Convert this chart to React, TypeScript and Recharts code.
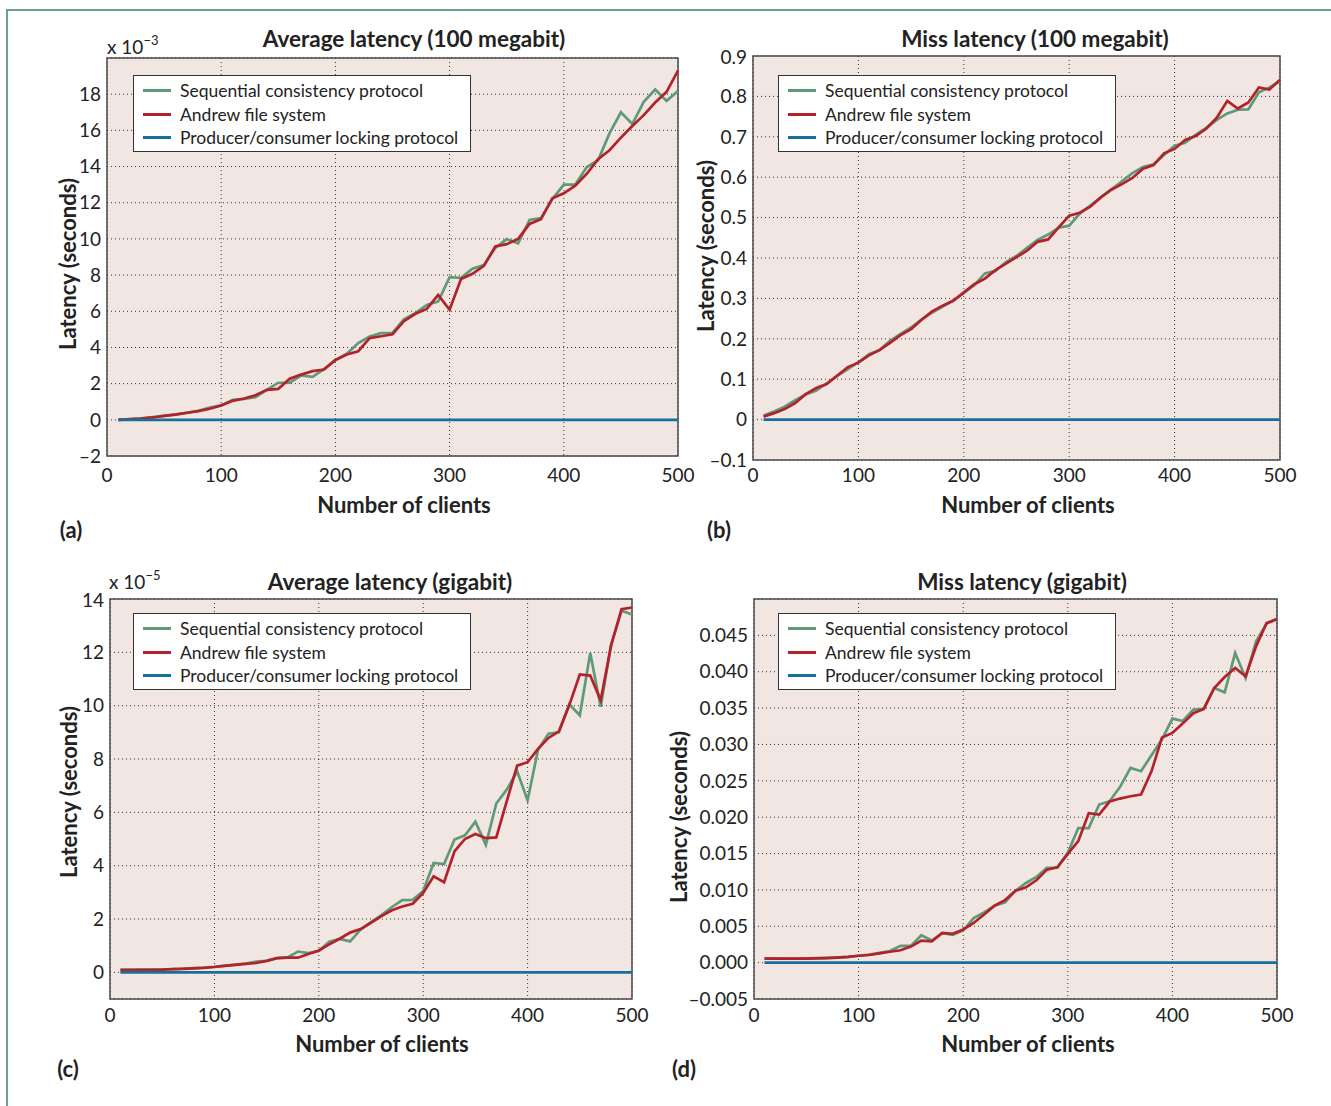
import React from 'react';
import { LineChart, Line, XAxis, YAxis, CartesianGrid, ReferenceArea, Legend } from 'recharts';

// x values shared by every panel
const clients = [
  10, 20, 30, 40, 50, 60, 70, 80, 90, 100,
  110, 120, 130, 140, 150, 160, 170, 180, 190, 200,
  210, 220, 230, 240, 250, 260, 270, 280, 290, 300,
  310, 320, 330, 340, 350, 360, 370, 380, 390, 400,
  410, 420, 430, 440, 450, 460, 470, 480, 490, 500,
];

// producer/consumer locking stays flat at zero everywhere
const lockingZero = [
  0, 0, 0, 0, 0, 0, 0, 0, 0, 0,
  0, 0, 0, 0, 0, 0, 0, 0, 0, 0,
  0, 0, 0, 0, 0, 0, 0, 0, 0, 0,
  0, 0, 0, 0, 0, 0, 0, 0, 0, 0,
  0, 0, 0, 0, 0, 0, 0, 0, 0, 0,
];

// (a) average latency, 100 megabit (x 10^-3 s)
const seqA = [
  0.0, 0.03, 0.08, 0.15, 0.22, 0.3, 0.38, 0.5, 0.68, 0.8,
  1.1, 1.15, 1.25, 1.65, 2.05, 2.06, 2.45, 2.37, 2.8, 3.3,
  3.65, 4.24, 4.6, 4.8, 4.8, 5.55, 5.9, 6.35, 6.54, 7.88,
  7.85, 8.35, 8.55, 9.5, 9.99, 9.76, 11.05, 11.15, 12.2, 13.0,
  13.0, 13.96, 14.35, 15.83, 17.0, 16.35, 17.58, 18.26, 17.63, 18.18,
];
const afsA = [
  0.0, 0.04, 0.07, 0.13, 0.22, 0.29, 0.39, 0.48, 0.61, 0.79,
  1.05, 1.18, 1.36, 1.66, 1.71, 2.27, 2.5, 2.69, 2.78, 3.31,
  3.61, 3.79, 4.51, 4.62, 4.73, 5.45, 5.86, 6.13, 6.9, 6.08,
  7.78, 8.07, 8.51, 9.58, 9.71, 10.0, 10.83, 11.09, 12.25, 12.52,
  12.94, 13.59, 14.4, 14.9, 15.6, 16.24, 16.84, 17.54, 18.13, 19.3,
];

// (b) miss latency, 100 megabit (s)
const seqB = [
  0.01, 0.02, 0.032, 0.048, 0.062, 0.072, 0.09, 0.108, 0.125, 0.142,
  0.162, 0.172, 0.195, 0.212, 0.228, 0.248, 0.265, 0.28, 0.295, 0.313,
  0.333, 0.362, 0.368, 0.39, 0.405, 0.425, 0.445, 0.458, 0.475, 0.48,
  0.51, 0.53, 0.55, 0.57, 0.59, 0.61, 0.625, 0.632, 0.655, 0.678,
  0.685, 0.705, 0.722, 0.742, 0.758, 0.767, 0.768, 0.81, 0.822, 0.838,
];
const afsB = [
  0.007, 0.016, 0.026, 0.041, 0.063, 0.078, 0.088, 0.109, 0.13, 0.141,
  0.159, 0.172, 0.19, 0.209, 0.224, 0.247, 0.268, 0.282, 0.294, 0.315,
  0.335, 0.349, 0.37, 0.386, 0.402, 0.418, 0.44, 0.446, 0.476, 0.505,
  0.512, 0.527, 0.55, 0.569, 0.583, 0.598, 0.621, 0.63, 0.659, 0.67,
  0.692, 0.702, 0.72, 0.747, 0.789, 0.77, 0.785, 0.822, 0.817, 0.841,
];

// (c) average latency, gigabit (x 10^-5 s)
const seqC = [
  0.1, 0.1, 0.1, 0.1, 0.11, 0.12, 0.14, 0.16, 0.18, 0.21,
  0.25, 0.29, 0.33, 0.4, 0.43, 0.53, 0.56, 0.78, 0.72, 0.8,
  1.15, 1.25, 1.16, 1.6, 1.88, 2.15, 2.45, 2.71, 2.72, 3.05,
  4.1, 4.06, 4.98, 5.14, 5.65, 4.78, 6.33, 6.85, 7.54, 6.45,
  8.35, 8.95, 9.0, 10.05, 9.64, 11.97, 9.96, 12.29, 13.56, 13.42,
];
const afsC = [
  0.08, 0.08, 0.09, 0.09, 0.1, 0.12, 0.13, 0.15, 0.17, 0.2,
  0.24, 0.28, 0.32, 0.35, 0.43, 0.53, 0.55, 0.55, 0.69, 0.82,
  1.05, 1.26, 1.49, 1.62, 1.86, 2.11, 2.33, 2.47, 2.57, 2.98,
  3.6, 3.38, 4.54, 5.0, 5.19, 5.03, 5.06, 6.41, 7.75, 7.88,
  8.38, 8.79, 9.04, 10.03, 11.17, 11.13, 10.2, 12.26, 13.62, 13.68,
];

// (d) miss latency, gigabit (s)
const seqD = [
  0.0006, 0.00058, 0.00056, 0.00056, 0.0006, 0.00062, 0.00066, 0.00072, 0.00078, 0.00095,
  0.0011, 0.00135, 0.0016, 0.0023, 0.0023, 0.00377, 0.00304, 0.00405, 0.00382, 0.00442,
  0.00612, 0.0069, 0.00782, 0.00828, 0.00989, 0.01095, 0.01178, 0.01302, 0.01306, 0.01509,
  0.0185, 0.0185, 0.02174, 0.0222, 0.02417, 0.02678, 0.02632, 0.02852, 0.03067, 0.03355,
  0.03323, 0.03479, 0.03488, 0.03777, 0.03717, 0.04257, 0.03914, 0.04418, 0.0466, 0.04724,
];
const afsD = [
  0.00055, 0.00054, 0.00054, 0.00054, 0.00055, 0.00058, 0.00063, 0.0007, 0.00078, 0.00095,
  0.00105, 0.00127, 0.0015, 0.0017, 0.0022, 0.00302, 0.00294, 0.00408, 0.00396, 0.00455,
  0.00545, 0.00662, 0.00784, 0.0086, 0.00989, 0.01035, 0.01132, 0.01279, 0.01311, 0.01495,
  0.0167, 0.02055, 0.02037, 0.02215, 0.02256, 0.02288, 0.0231, 0.0263, 0.03094, 0.03158,
  0.0329, 0.03429, 0.03488, 0.03777, 0.03928, 0.04051, 0.03937, 0.04349, 0.04669, 0.04724,
];

const xTicks = [0, 100, 200, 300, 400, 500];
const yTicksA = [-2, 0, 2, 4, 6, 8, 10, 12, 14, 16, 18];
const yTicksB = [-0.1, 0, 0.1, 0.2, 0.3, 0.4, 0.5, 0.6, 0.7, 0.8, 0.9];
const yTicksC = [0, 2, 4, 6, 8, 10, 12, 14];
const yTicksD = [-0.005, 0, 0.005, 0.01, 0.015, 0.02, 0.025, 0.03, 0.035, 0.04, 0.045];

const GREEN = '#5f9a78';
const RED = '#b3222b';
const BLUE = '#15709a';
const FRAME = '#6ca184';
const BG = '#f2e6e2';
const INK = '#222';
const FONT = 'Lato, "Open Sans", sans-serif';

// legend order as printed in the figure
const seriesOrder = ['Sequential consistency protocol', 'Andrew file system', 'Producer/consumer locking protocol'];

const DASH = '\u2013';
const fmtInt = (v: number) => (v < 0 ? DASH + Math.abs(v) : String(v));
const fmtOne = (v: number) => (v === 0 ? '0' : (v < 0 ? DASH : '') + Math.abs(v).toFixed(1));
const fmtThree = (v: number) => (v < 0 ? DASH : '') + Math.abs(v).toFixed(3);

const buildRows = (seq: number[], afs: number[]) =>
  clients.map((c, i) => ({ clients: c, seq: seq[i], afs: afs[i], lock: lockingZero[i] }));

// chart frame around the plot area
const YW = 70;
const MT = 10;
const MR = 30;
const XH = 40;

const renderLegend = (props: any) => {
  const items = [...(props.payload || [])].sort(
    (a: any, b: any) => seriesOrder.indexOf(a.value) - seriesOrder.indexOf(b.value)
  );
  return (
    <div
      style={{
        background: '#fff',
        border: '1.5px solid #333',
        width: 338,
        height: 77,
        boxSizing: 'border-box',
        paddingTop: 3,
        fontFamily: FONT,
      }}
    >
      {items.map((p: any, i: number) => (
        <div key={i} style={{ display: 'flex', alignItems: 'center', height: 23.5 }}>
          <span style={{ display: 'inline-block', width: 28, height: 3, background: p.color, marginLeft: 9, marginRight: 9 }} />
          <span style={{ fontSize: 17.5, color: INK, whiteSpace: 'nowrap' }}>{p.value}</span>
        </div>
      ))}
    </div>
  );
};

interface PanelProps {
  left: number;
  top: number;
  width: number;
  height: number;
  rows: any[];
  yDomain: [number, number];
  yTicks: number[];
  fmt: (v: number) => string;
  legendX: number;
  legendY: number;
  xGap: number;
}

const Panel = ({ left, top, width, height, rows, yDomain, yTicks, fmt, legendX, legendY, xGap }: PanelProps) => {
  const chartLeft = left - YW;
  const chartTop = top - MT;
  const tickStyle = { fontSize: 19, fill: INK, fontFamily: FONT };
  return (
    <div style={{ position: 'absolute', left: chartLeft, top: chartTop }}>
      <LineChart
        width={YW + width + MR}
        height={MT + height + XH}
        data={rows}
        margin={{ top: MT, right: MR, left: 0, bottom: 0 }}
      >
        <CartesianGrid fill={BG} stroke="#333" strokeDasharray="1 3" />
        <XAxis
          dataKey="clients"
          type="number"
          domain={[0, 500]}
          ticks={xTicks}
          height={XH}
          tickLine={false}
          axisLine={false}
          tickSize={0}
          tickMargin={xGap}
          tick={tickStyle}
        />
        <YAxis
          type="number"
          domain={yDomain}
          ticks={yTicks}
          width={YW}
          allowDataOverflow
          tickFormatter={fmt}
          tickLine={false}
          axisLine={false}
          tickSize={0}
          tickMargin={6}
          tick={tickStyle}
        />
        <ReferenceArea
          x1={0}
          x2={500}
          y1={yDomain[0]}
          y2={yDomain[1]}
          fill="none"
          stroke="#4a4a4a"
          strokeWidth={1.5}
          ifOverflow="visible"
        />
        <Legend
          layout="vertical"
          align="center"
          verticalAlign="middle"
          content={renderLegend}
          wrapperStyle={{ left: legendX - chartLeft, top: legendY - chartTop, width: 340 }}
        />
        <Line name="Sequential consistency protocol" dataKey="seq" stroke={GREEN} strokeWidth={2.7} dot={false} isAnimationActive={false} />
        <Line name="Andrew file system" dataKey="afs" stroke={RED} strokeWidth={2.7} dot={false} isAnimationActive={false} />
        <Line name="Producer/consumer locking protocol" dataKey="lock" stroke={BLUE} strokeWidth={2.7} dot={false} isAnimationActive={false} />
      </LineChart>
    </div>
  );
};

const Text = ({ x, y, size, bold, rotate, children }: any) => (
  <div
    style={{
      position: 'absolute',
      left: x,
      top: y,
      transform: `translate(-50%, -50%)${rotate ? ' rotate(-90deg)' : ''}`,
      whiteSpace: 'nowrap',
      fontSize: size,
      fontWeight: bold ? 700 : 400,
      lineHeight: 1,
      color: INK,
      fontFamily: FONT,
    }}
  >
    {children}
  </div>
);

const Multiplier = ({ x, y, exp }: { x: number; y: number; exp: string }) => (
  <div style={{ position: 'absolute', left: x, top: y, fontSize: 19, color: INK, fontFamily: FONT, lineHeight: 1, whiteSpace: 'nowrap' }}>
    x 10<span style={{ fontSize: 13, position: 'relative', top: -9 }}>{exp}</span>
  </div>
);

const App = () => (
  <div style={{ position: 'fixed', left: 0, top: 0, width: 1331, height: 1106, background: '#fff', overflow: 'hidden', fontFamily: FONT }}>
    <div style={{ position: 'absolute', left: 5.5, top: 8.5, width: 1330, height: 1100, borderTop: `2.5px solid ${FRAME}`, borderLeft: `2.5px solid ${FRAME}` }} />

    <Panel left={107} top={58} width={571} height={398} rows={buildRows(seqA, afsA)} yDomain={[-2, 20]} yTicks={yTicksA} fmt={fmtInt} legendX={133} legendY={75} xGap={13} />
    <Panel left={753} top={56} width={527} height={404} rows={buildRows(seqB, afsB)} yDomain={[-0.1, 0.9]} yTicks={yTicksB} fmt={fmtOne} legendX={778} legendY={75} xGap={9} />
    <Panel left={110} top={599} width={522} height={400} rows={buildRows(seqC, afsC)} yDomain={[-1, 14]} yTicks={yTicksC} fmt={fmtInt} legendX={133} legendY={613} xGap={10} />
    <Panel left={754} top={599} width={523} height={400} rows={buildRows(seqD, afsD)} yDomain={[-0.005, 0.05]} yTicks={yTicksD} fmt={fmtThree} legendX={778} legendY={613} xGap={10} />

    <Text x={414} y={39} size={22.5} bold>Average latency (100 megabit)</Text>
    <Text x={1035} y={39} size={22.5} bold>Miss latency (100 megabit)</Text>
    <Text x={390} y={582} size={22.5} bold>Average latency (gigabit)</Text>
    <Text x={1022} y={582} size={22.5} bold>Miss latency (gigabit)</Text>

    <Multiplier x={107} y={37} exp={'\u22123'} />
    <Multiplier x={109} y={572} exp={'\u22125'} />

    <Text x={68} y={264} size={22} bold rotate>Latency (seconds)</Text>
    <Text x={706} y={246} size={22} bold rotate>Latency (seconds)</Text>
    <Text x={69} y={792} size={22} bold rotate>Latency (seconds)</Text>
    <Text x={679} y={817} size={22} bold rotate>Latency (seconds)</Text>

    <Text x={404} y={505} size={22} bold>Number of clients</Text>
    <Text x={1028} y={505} size={22} bold>Number of clients</Text>
    <Text x={382} y={1044} size={22} bold>Number of clients</Text>
    <Text x={1028} y={1044} size={22} bold>Number of clients</Text>

    <Text x={71} y={530} size={22} bold>(a)</Text>
    <Text x={719} y={530} size={22} bold>(b)</Text>
    <Text x={68} y={1069} size={22} bold>(c)</Text>
    <Text x={684} y={1069} size={22} bold>(d)</Text>
  </div>
);

export default App;
